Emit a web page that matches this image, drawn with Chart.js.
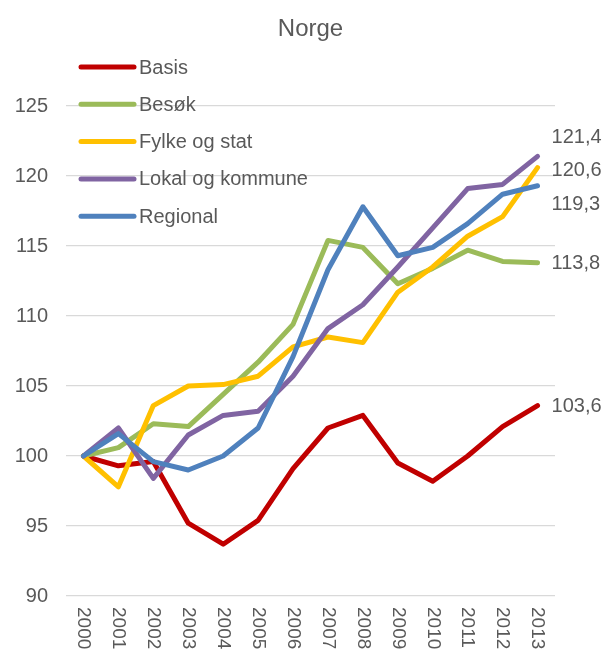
<!DOCTYPE html>
<html>
<head>
<meta charset="utf-8">
<title>Norge</title>
<script src="https://cdn.jsdelivr.net/npm/chart.js@4.4.1/dist/chart.umd.min.js"></script>
<style>
  html, body { margin: 0; padding: 0; background: #fff; }
  #wrap { width: 606px; height: 655px; }
</style>
</head>
<body>
<div id="wrap"><canvas id="chart" width="606" height="655"></canvas></div>
<script>
const years = ['2000', '2001', '2002', '2003', '2004', '2005', '2006',
               '2007', '2008', '2009', '2010', '2011', '2012', '2013'];

const basis    = [100, 99.3, 99.6, 95.2, 93.7, 95.4, 99.1, 102.0, 102.9, 99.5, 98.2, 100.0, 102.1, 103.6];
const besok    = [100, 100.6, 102.3, 102.1, 104.4, 106.7, 109.4, 115.4, 114.9, 112.3, 113.4, 114.7, 113.9, 113.8];
const fylke    = [100, 97.8, 103.6, 105.0, 105.1, 105.7, 107.8, 108.5, 108.1, 111.7, 113.5, 115.7, 117.1, 120.6];
const lokal    = [100, 102.0, 98.4, 101.5, 102.9, 103.2, 105.7, 109.1, 110.8, 113.5, 116.3, 119.1, 119.4, 121.4];
const regional = [100, 101.6, 99.6, 99.0, 100.0, 102.0, 107.1, 113.3, 117.8, 114.3, 114.9, 116.6, 118.7, 119.3];

const seriesNames = ['Basis', 'Besøk', 'Fylke og stat', 'Lokal og kommune', 'Regional'];
const seriesData = [basis, besok, fylke, lokal, regional];
const seriesColors = ['#C00000', '#9BBB59', '#FFC000', '#8064A2', '#4F81BD'];

const yTicks = [90, 95, 100, 105, 110, 115, 120, 125];

const FONT = '"Liberation Sans", Arial, sans-serif';
const TEXT = '#595959';

// legend drawn inside the plot, top-left, like the original
const insideLegend = {
  id: 'insideLegend',
  afterDraw(chart) {
    const ctx = chart.ctx;
    const area = chart.chartArea;
    ctx.save();
    ctx.font = '20px ' + FONT;
    ctx.textBaseline = 'middle';
    ctx.textAlign = 'left';
    chart.data.datasets.forEach((ds, i) => {
      const y = area.top - 39 + i * 37.3;
      const x0 = area.left + 15;
      ctx.strokeStyle = ds.borderColor;
      ctx.lineWidth = 5;
      ctx.lineCap = 'round';
      ctx.beginPath();
      ctx.moveTo(x0, y);
      ctx.lineTo(x0 + 53, y);
      ctx.stroke();
      ctx.fillStyle = TEXT;
      ctx.fillText(ds.label, x0 + 58, y + 1);
    });
    ctx.restore();
  }
};

// x labels rotated clockwise (read top to bottom)
const rotatedX = {
  id: 'rotatedX',
  afterDraw(chart) {
    const ctx = chart.ctx;
    const xs = chart.scales.x;
    ctx.save();
    ctx.font = '19px ' + FONT;
    ctx.fillStyle = TEXT;
    ctx.textAlign = 'left';
    ctx.textBaseline = 'middle';
    chart.data.labels.forEach((lab, i) => {
      const x = xs.getPixelForValue(i);
      ctx.save();
      ctx.translate(x, chart.chartArea.bottom + 11);
      ctx.rotate(Math.PI / 2);
      ctx.fillText(lab, 0, 0);
      ctx.restore();
    });
    ctx.restore();
  }
};

// last values at the right end, spread apart where they collide
const endLabels = {
  id: 'endLabels',
  afterDraw(chart) {
    const ctx = chart.ctx;
    const gap = 33.5;
    let items = chart.data.datasets.map((ds, i) => {
      const meta = chart.getDatasetMeta(i);
      const pt = meta.data[meta.data.length - 1];
      return { y: pt.y, x: pt.x, text: ds.data[ds.data.length - 1].toFixed(1).replace('.', ',') };
    }).sort((a, b) => a.y - b.y);

    // group overlapping labels and centre each group on its mean
    let groups = items.map(it => ({ items: [it], center: it.y }));
    let merged = true;
    while (merged) {
      merged = false;
      for (let i = 0; i < groups.length - 1; i++) {
        const a = groups[i], b = groups[i + 1];
        const aBottom = a.center + (a.items.length - 1) * gap / 2;
        const bTop = b.center - (b.items.length - 1) * gap / 2;
        if (bTop - aBottom < gap) {
          const all = a.items.concat(b.items);
          const c = all.reduce((s, it) => s + it.y, 0) / all.length;
          groups.splice(i, 2, { items: all, center: c });
          merged = true;
          break;
        }
      }
    }

    ctx.save();
    ctx.font = '20px ' + FONT;
    ctx.fillStyle = TEXT;
    ctx.textAlign = 'left';
    ctx.textBaseline = 'middle';
    groups.forEach(g => {
      const start = g.center - (g.items.length - 1) * gap / 2;
      g.items.forEach((it, k) => {
        ctx.fillText(it.text, it.x + 14, start + k * gap + 1);
      });
    });
    ctx.restore();
  }
};

const ctx = document.getElementById('chart').getContext('2d');
const chart = new Chart(ctx, {
  type: 'line',
  data: {
    labels: years,
    datasets: seriesNames.map((name, i) => ({
      label: name,
      data: seriesData[i],
      borderColor: seriesColors[i],
      backgroundColor: seriesColors[i],
      borderWidth: 5,
      pointRadius: 0,
      tension: 0,
      borderCapStyle: 'round',
      borderJoinStyle: 'round',
      order: seriesNames.length - i
    }))
  },
  options: {
    responsive: false,
    animation: false,
    layout: { padding: { top: 0, right: 51, bottom: 0, left: 0 } },
    plugins: {
      legend: { display: false },
      tooltip: { enabled: false },
      title: {
        display: true,
        fullSize: false,
        text: 'Norge',
        color: TEXT,
        font: { family: FONT, size: 24, weight: 'normal' },
        padding: { top: 15, bottom: 62.2 }
      }
    },
    scales: {
      x: {
        offset: true,
        grid: { display: false, drawTicks: false },
        border: { display: false },
        ticks: { display: false },
        afterFit(scale) { scale.height = 59; }
      },
      y: {
        min: 90,
        max: 125,
        afterBuildTicks(scale) { scale.ticks = yTicks.map(v => ({ value: v })); },
        grid: { color: '#D9D9D9', lineWidth: 1.3, drawTicks: false },
        border: { display: false },
        ticks: {
          color: TEXT,
          font: { family: FONT, size: 20 },
          padding: 18
        },
        afterFit(scale) { scale.width = 66; }
      }
    }
  },
  plugins: [insideLegend, rotatedX, endLabels]
});
</script>
</body>
</html>
